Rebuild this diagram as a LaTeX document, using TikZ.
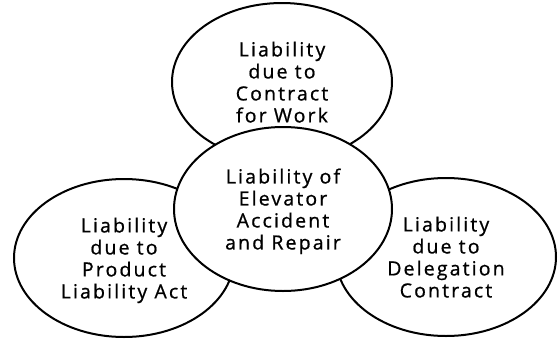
\documentclass[tikz,border=0pt]{standalone}
\usepackage{fontspec}
\setmainfont{Open Sans}[LetterSpace=11, FakeBold=0.8]
\usetikzlibrary{shapes.geometric}
\begin{document}
\begin{tikzpicture}[x=1pt,y=-1pt,
  bubble/.style={ellipse, draw=black, line width=2pt, fill=white,
    inner sep=0pt, align=center, text depth=0pt,
    font=\fontsize{19.5}{22}\selectfont},
  outer/.style={bubble, minimum width=220pt, minimum height=158pt},
  core/.style={bubble, minimum width=218pt, minimum height=164pt}]
\useasboundingbox (0,0) rectangle (558,341);
\node[outer] (work) at (282,82) {Liability\\due to\\Contract\\for Work};
\node[outer] (product) at (124,258) {Liability\\due to\\Product\\Liability Act};
\node[outer] (delegation) at (446,257) {Liability\\due to\\Delegation\\Contract};
\node[core] (elevator) at (283,209) {Liability of\\Elevator\\Accident\\and Repair};
\end{tikzpicture}
\end{document}
